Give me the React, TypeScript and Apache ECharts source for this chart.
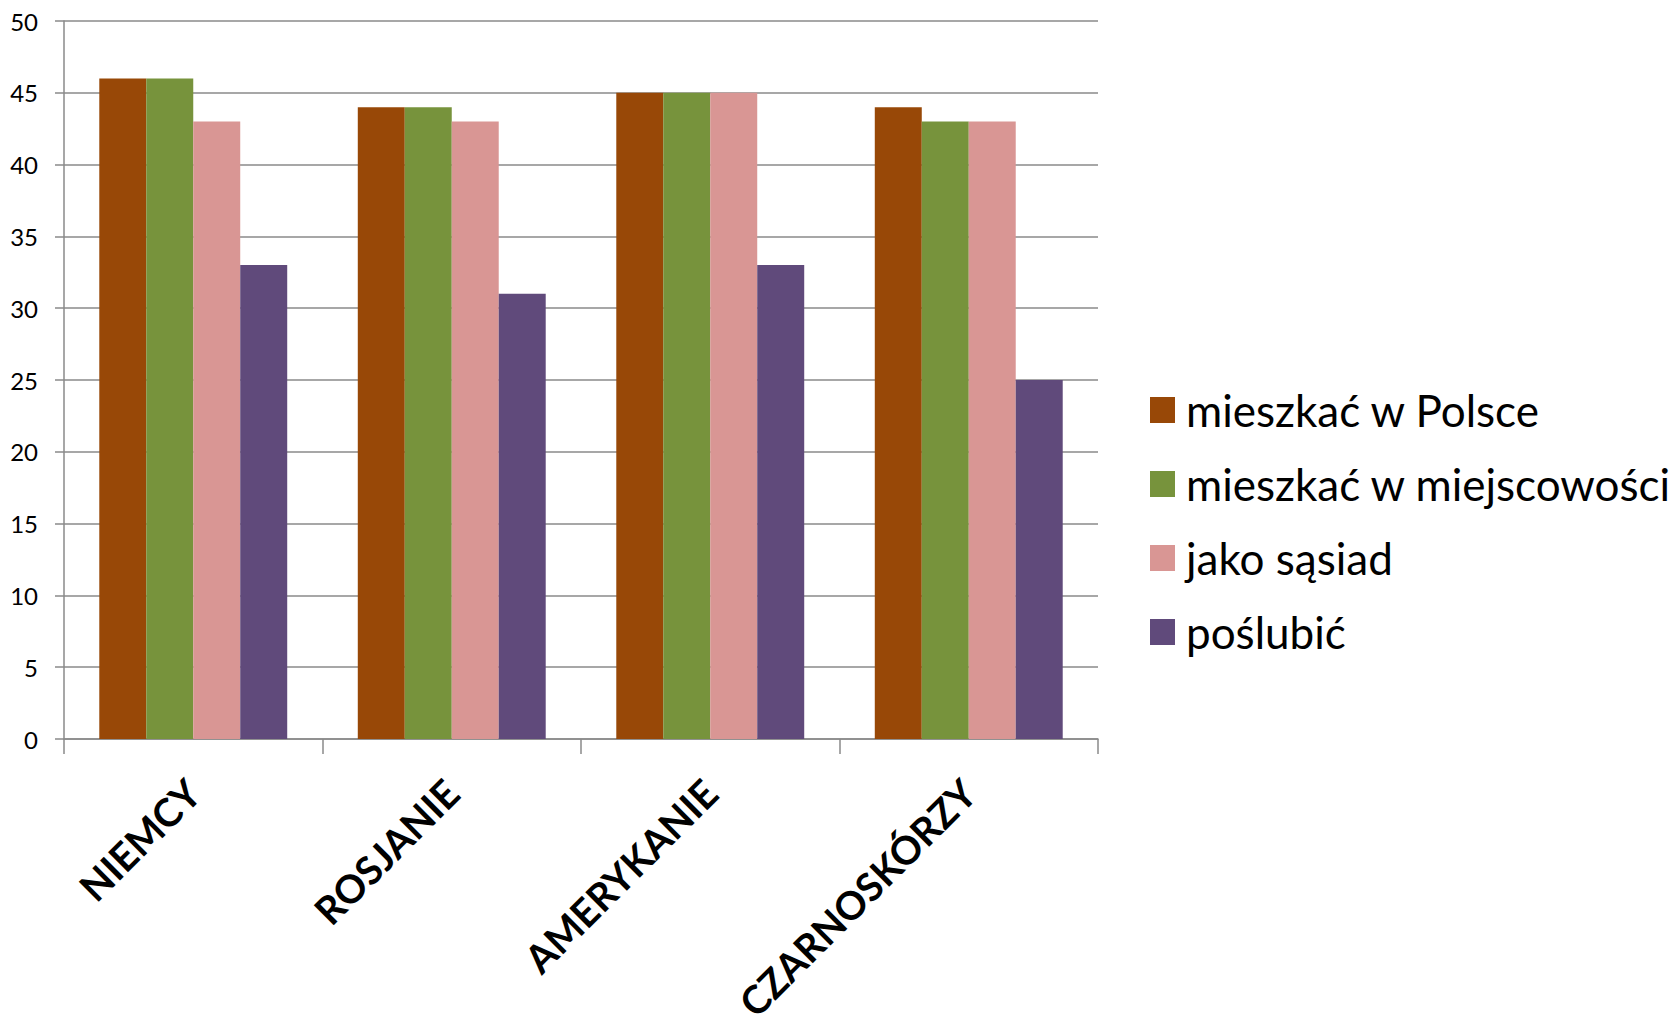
import React, { useEffect, useRef } from "react";
import * as echarts from "echarts";

const categories = ["NIEMCY", "ROSJANIE", "AMERYKANIE", "CZARNOSKÓRZY"];
const seriesNames = ["mieszkać w Polsce", "mieszkać w miejscowości", "jako sąsiad", "poślubić"];
const mieszkacWPolsce = [46, 44, 45, 44];
const mieszkacWMiejscowosci = [46, 44, 45, 43];
const jakoSasiad = [43, 43, 45, 43];
const poslubic = [33, 31, 33, 25];
const seriesColors = ["#984807", "#77933C", "#D99694", "#604A7B"];
const yTicks = { min: 0, max: 50, interval: 5 };

export default function App() {
  const ref = useRef<HTMLDivElement>(null);
  useEffect(() => {
    if (!ref.current) return;
    const chart = echarts.init(ref.current, null, { renderer: "svg" });
    const values = [mieszkacWPolsce, mieszkacWMiejscowosci, jakoSasiad, poslubic];
    const font = "Lato";
    chart.setOption({
      animation: false,
      backgroundColor: "#ffffff",
      grid: { left: 64, right: 582, top: 21, bottom: 289, containLabel: false, outerBoundsMode: "none" },
      legend: {
        orient: "vertical",
        left: 1145,
        top: 381,
        itemWidth: 25,
        itemHeight: 26,
        itemGap: 26,
        icon: "rect",
        data: seriesNames,
        textStyle: {
          fontFamily: font,
          fontSize: 44,
          lineHeight: 48,
          color: "#000",
          padding: [0, 0, 0, 6],
        },
      },
      xAxis: {
        type: "category",
        data: categories,
        axisLine: { lineStyle: { color: "#8a8a8a", width: 1.5 } },
        axisTick: { show: true, length: 15, lineStyle: { color: "#8a8a8a", width: 1.5 } },
        axisLabel: {
          interval: 0,
          rotate: 45,
          margin: 47,
          fontFamily: font,
          fontWeight: "bold",
          fontSize: 39,
          lineHeight: 40,
          color: "#000",
        },
      },
      yAxis: {
        type: "value",
        min: yTicks.min,
        max: yTicks.max,
        interval: yTicks.interval,
        axisLine: { show: true, lineStyle: { color: "#8a8a8a", width: 1.5 } },
        axisTick: { show: true, length: 9, lineStyle: { color: "#8a8a8a", width: 1.5 } },
        splitLine: { show: true, lineStyle: { color: "#8a8a8a", width: 1.5 } },
        axisLabel: { margin: 26, fontFamily: font, fontSize: 24, color: "#000" },
      },
      series: seriesNames.map((name, i) => ({
        name,
        type: "bar",
        data: values[i],
        barGap: "0%",
        barCategoryGap: "27.3%",
        itemStyle: { color: seriesColors[i] },
      })),
    });
    return () => chart.dispose();
  }, []);
  return <div ref={ref} style={{ width: 1680, height: 1028, position: "absolute", left: 0, top: 0 }} />;
}
